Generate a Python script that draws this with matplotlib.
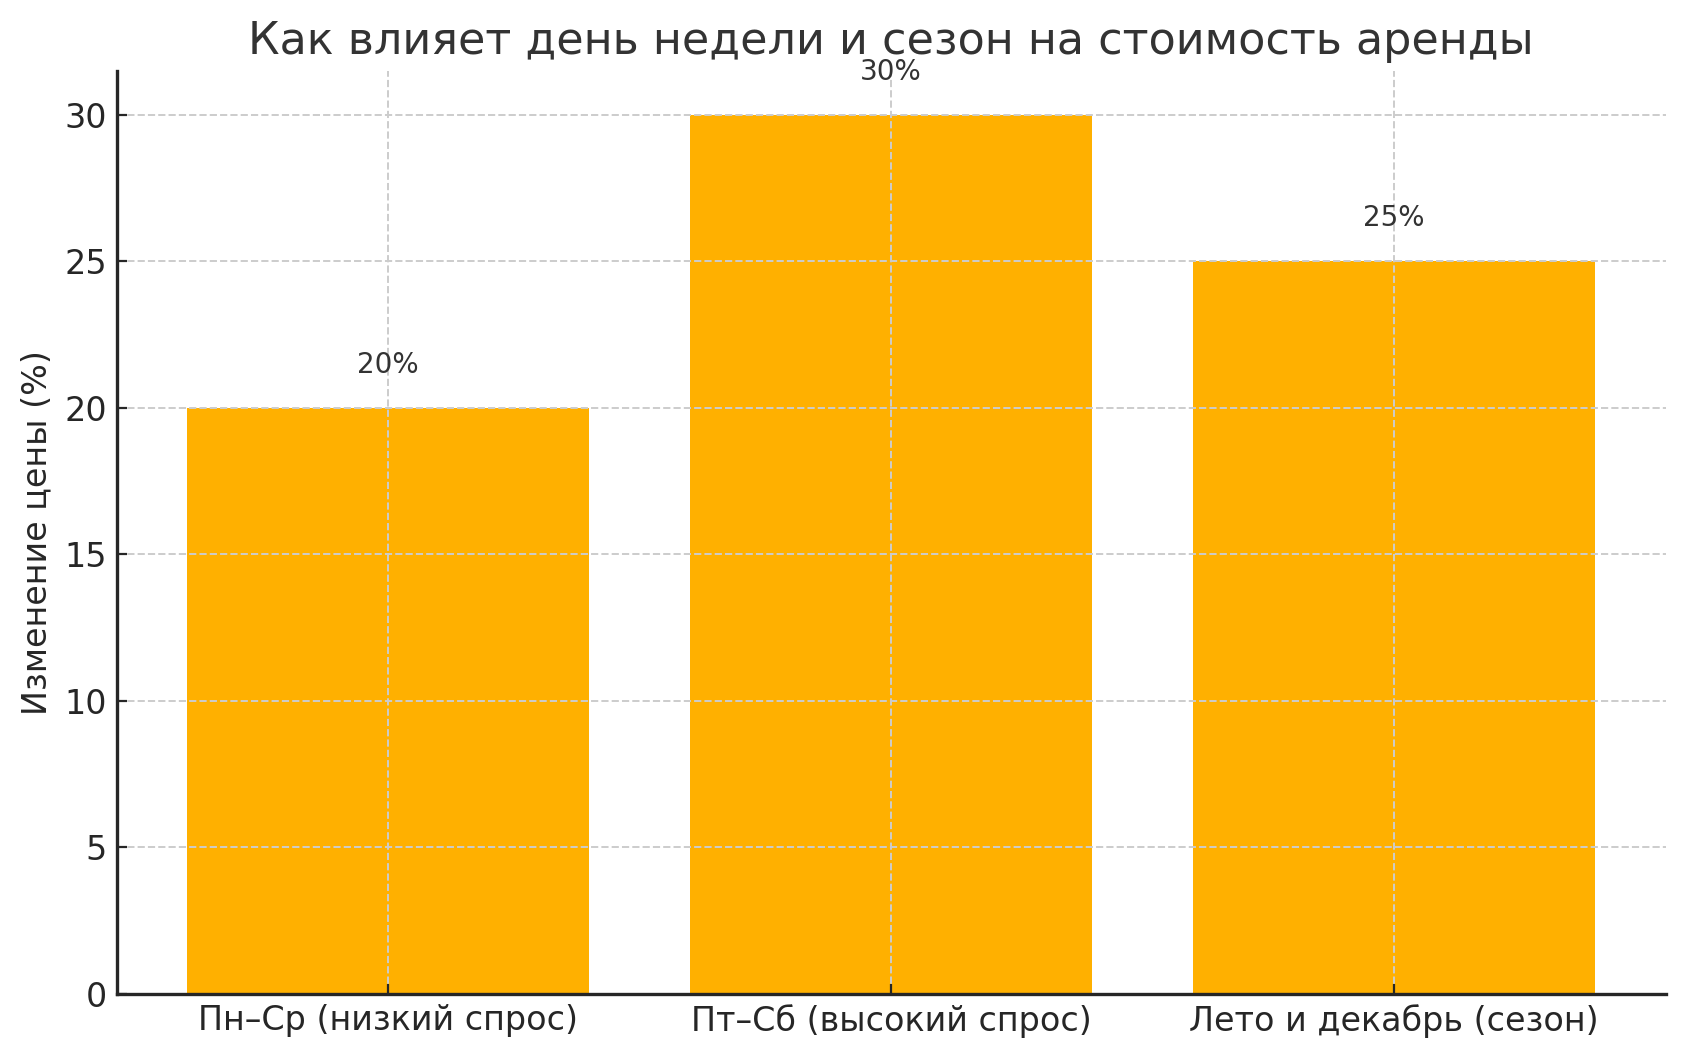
import matplotlib.pyplot as plt

# данные
categories = ['Пн–Ср (низкий спрос)', 'Пт–Сб (высокий спрос)', 'Лето и декабрь (сезон)']
values = [20, 30, 25]

plt.rcParams['font.family'] = ['DejaVu Sans']

fig = plt.figure(figsize=(8.43, 5.29), dpi=200)
ax = fig.add_axes([0.0692, 0.0605, 0.9187, 0.8725])

ax.bar(categories, values, color='#FFB000', width=0.8)
for i, v in enumerate(values):
    ax.text(i, v + 1, f'{v}%', ha='center', va='bottom', fontsize=10, color='#333333')

ax.set_title('Как влияет день недели и сезон на стоимость аренды', fontsize=16, color='#333333')
ax.set_ylabel('Изменение цены (%)', fontsize=12, color='#262626')
ax.tick_params(axis='both', labelsize=12, direction='in', colors='#262626')
ax.set_axisbelow(False)
ax.grid(True, linestyle='--', color='#cccccc', linewidth=0.7)
for s in ['top', 'right']:
    ax.spines[s].set_visible(False)
for s in ['left', 'bottom']:
    ax.spines[s].set_color('#262626')
    ax.spines[s].set_linewidth(1.2)
    ax.spines[s].set_zorder(4)

fig.savefig('out.png', dpi=200)
